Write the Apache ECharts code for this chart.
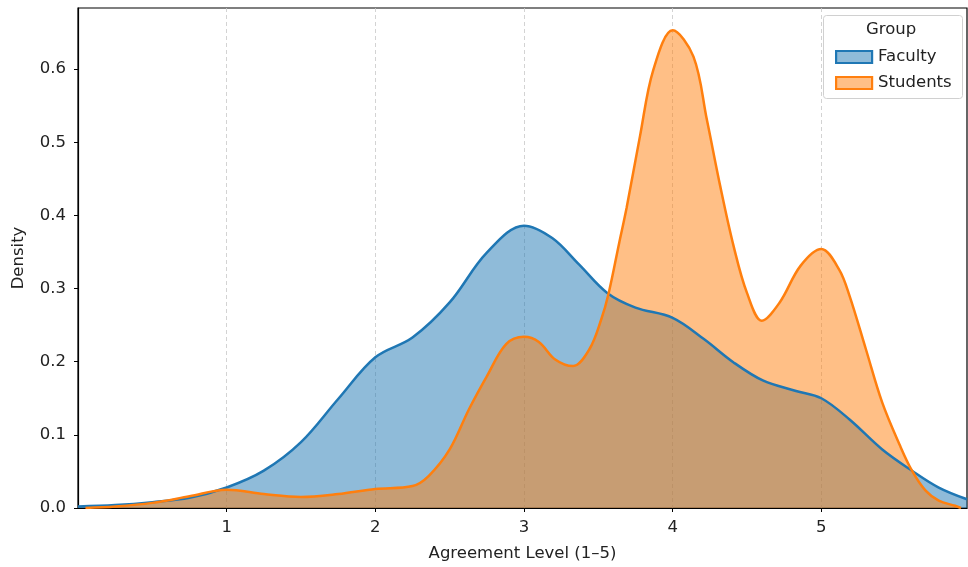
<!DOCTYPE html>
<html>
<head>
<meta charset="utf-8">
<script src="https://cdn.jsdelivr.net/npm/echarts@6/dist/echarts.min.js"></script>
<style>
  html, body { margin: 0; padding: 0; background: #fff; }
  #chart { width: 968px; height: 567px; }
</style>
</head>
<body>
<div id="chart"></div>
<script>
// 数据: KDE 曲线
const facultyX = [0, 0.25, 0.5, 0.75, 1, 1.25, 1.5, 1.75, 2, 2.25, 2.5, 2.75, 3, 3.19, 3.37, 3.56, 3.75, 4, 4.21, 4.41, 4.61, 4.83, 5, 5.19, 5.41, 5.61, 5.79, 5.98]
const facultyY = [0.002, 0.004, 0.008, 0.014, 0.028, 0.051, 0.090, 0.149, 0.206, 0.233, 0.281, 0.349, 0.386, 0.369, 0.333, 0.294, 0.274, 0.260, 0.231, 0.199, 0.174, 0.160, 0.150, 0.121, 0.080, 0.051, 0.028, 0.012]

const studentsX = [0.05, 0.25, 0.5, 0.75, 1, 1.25, 1.5, 1.75, 2, 2.25, 2.36, 2.5, 2.63, 2.75, 2.88, 3, 3.1, 3.21, 3.33, 3.44, 3.52, 3.57, 3.64, 3.69, 3.78, 3.87, 4.0, 4.14, 4.23, 4.32, 4.41, 4.5, 4.6, 4.72, 4.86, 5.0, 5.12, 5.19, 5.3, 5.41, 5.53, 5.61, 5.7, 5.79, 5.9, 5.94]
const studentsY = [0, 0.002, 0.007, 0.016, 0.025, 0.019, 0.015, 0.019, 0.026, 0.030, 0.044, 0.080, 0.135, 0.180, 0.224, 0.234, 0.227, 0.203, 0.194, 0.217, 0.258, 0.294, 0.362, 0.410, 0.508, 0.599, 0.653, 0.617, 0.531, 0.440, 0.358, 0.294, 0.256, 0.281, 0.331, 0.354, 0.326, 0.290, 0.217, 0.144, 0.085, 0.051, 0.024, 0.010, 0.003, 0]

// 刻度
const xTicks = [1, 2, 3, 4, 5]
const yTicks = [0, 0.1, 0.2, 0.3, 0.4, 0.5, 0.6]

const groups = ['Faculty', 'Students']
const colors = ['#1f77b4', '#ff7f0e']
const fills = ['rgba(31,119,180,0.5)', 'rgba(255,127,14,0.5)']

const pair = (xs, ys) => xs.map((x, i) => [x, ys[i]])
const seriesData = [pair(facultyX, facultyY), pair(studentsX, studentsY)]

const font = 'DejaVu Sans'
const fs = 16.5
const txt = '#222'
const chart = echarts.init(document.getElementById('chart'))

chart.setOption({
	animation: false,
	textStyle: { fontFamily: font },
	grid: {
		left: 78, right: 1, top: 8, bottom: 58,
		show: true, borderColor: '#000', borderWidth: 1.2, backgroundColor: 'transparent'
	},
	xAxis: {
		type: 'value', min: 0, max: 5.98, interval: 1,
		name: 'Agreement Level (1–5)', nameLocation: 'middle', nameGap: 37,
		nameTextStyle: { color: txt, fontSize: fs, fontFamily: font },
		axisLine: { show: true, onZero: false, lineStyle: { color: '#000', width: 1.2 } },
		axisTick: { show: true, length: 4, customValues: xTicks, lineStyle: { color: '#000' } },
		axisLabel: { color: txt, fontSize: fs, margin: 11, fontFamily: font, customValues: xTicks },
		splitLine: { show: true, lineStyle: { color: '#c8c8c8', type: [4, 3], width: 0.8 } }
	},
	yAxis: {
		type: 'value', min: 0, max: 0.6835, interval: 0.1,
		name: 'Density', nameLocation: 'middle', nameGap: 51,
		nameTextStyle: { color: txt, fontSize: fs, fontFamily: font },
		axisLine: { show: true, lineStyle: { color: '#000', width: 1.2 } },
		axisTick: { show: true, length: 4, customValues: yTicks, lineStyle: { color: '#000' } },
		axisLabel: { color: txt, fontSize: fs, margin: 12, fontFamily: font, customValues: yTicks, formatter: v => v.toFixed(1) },
		splitLine: { show: false }
	},
	legend: {
		orient: 'vertical', left: 830, top: 43.5,
		itemWidth: 36, itemHeight: 12, itemGap: 9,
		textStyle: { color: txt, fontSize: fs, fontFamily: font, padding: [0, 0, 0, 1] },
		data: groups.map((g, i) => ({
			name: g, icon: 'rect',
			itemStyle: { color: fills[i], borderColor: colors[i], borderWidth: 2.2 }
		}))
	},
	graphic: [
		{
			type: 'rect', left: 823, top: 15, z: 3,
			shape: { width: 139, height: 83, r: 3 },
			style: { fill: 'rgba(255,255,255,0.8)', stroke: '#d0d0d0', lineWidth: 1 }
		},
		{
			type: 'text', left: 866, top: 21, z: 5,
			style: { text: 'Group', fill: txt, font: fs + 'px "DejaVu Sans"' }
		}
	],
	series: groups.map((g, i) => ({
		name: g, type: 'line', data: seriesData[i],
		showSymbol: false, smooth: 0.35,
		lineStyle: { color: colors[i], width: 2.5 },
		itemStyle: { color: colors[i] },
		areaStyle: { color: fills[i], opacity: 1 }
	}))
})
</script>
</body>
</html>
